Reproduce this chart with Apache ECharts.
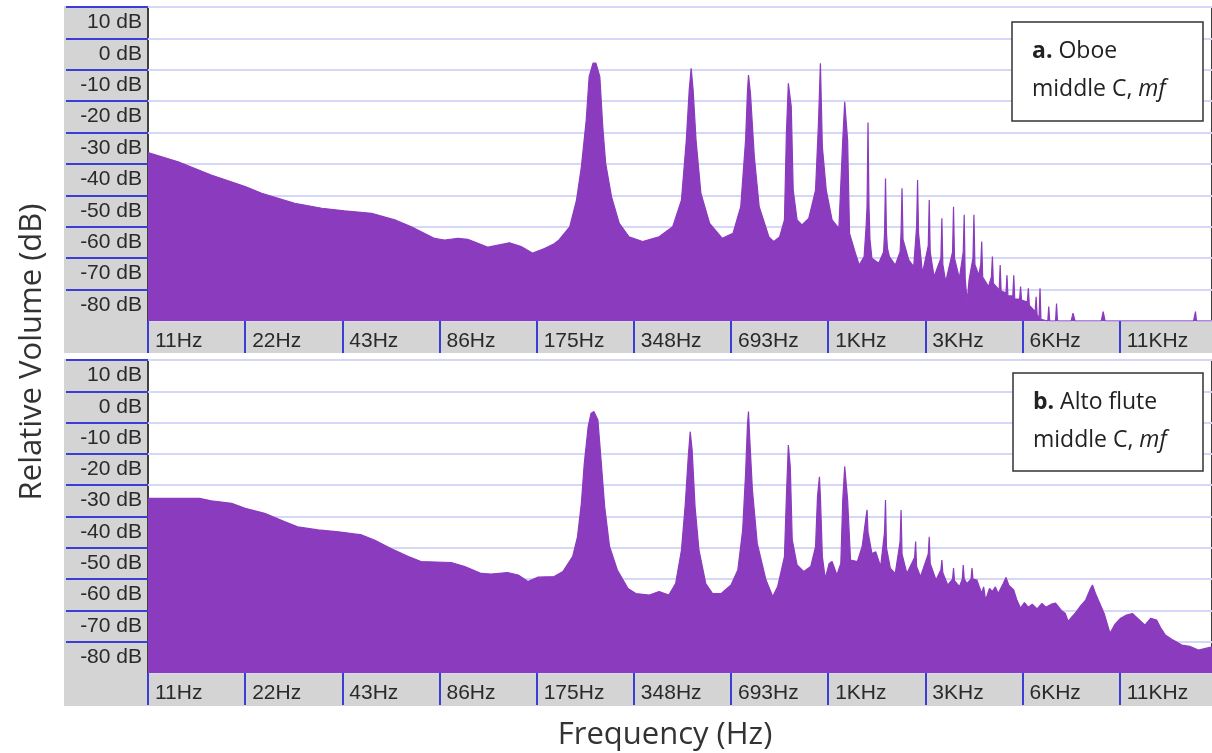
<!DOCTYPE html>
<html>
<head>
<meta charset="utf-8">
<script src="https://cdn.jsdelivr.net/npm/echarts@6/dist/echarts.min.js"></script>
<style>
  html, body { margin: 0; padding: 0; background: #ffffff; }
  #chart { width: 1212px; height: 753px; }
</style>
</head>
<body>
<div id="chart"></div>
<script>
// x values are octaves above 10.83 Hz (one tick per octave), y values are dB
const freqTickLabels = ['11Hz', '22Hz', '43Hz', '86Hz', '175Hz', '348Hz', '693Hz', '1KHz', '3KHz', '6KHz', '11KHz'];
const dbTicks = [10, 0, -10, -20, -30, -40, -50, -60, -70, -80];
const panelTitles = [
  { tag: 'a.', name: 'Oboe', line2: 'middle C, ', dyn: 'mf' },
  { tag: 'b.', name: 'Alto flute', line2: 'middle C, ', dyn: 'mf' }
];

const oboeSpectrum = [
  [0.00,-36.4],[0.31,-39.3],[0.65,-43.5],[1.00,-47.2],[1.17,-49.3],[1.51,-52.5],[1.79,-54.1],
  [2.02,-54.9],[2.30,-55.7],[2.54,-57.8],[2.71,-60.0],[2.95,-63.7],[3.05,-64.2],[3.19,-63.7],
  [3.29,-64.0],[3.50,-66.5],[3.72,-65.1],[3.84,-66.3],[3.96,-68.4],[4.08,-66.9],[4.18,-65.4],
  [4.23,-64.2],[4.34,-60.0],[4.41,-51.5],[4.46,-40.9],[4.51,-26.0],[4.54,-12.2],[4.58,-7.9],
  [4.61,-7.9],[4.65,-12.2],[4.68,-28.1],[4.71,-39.8],[4.77,-50.4],[4.85,-58.9],[4.95,-63.2],
  [5.09,-64.7],[5.26,-63.2],[5.40,-60.0],[5.49,-51.5],[5.54,-32.4],[5.57,-16.4],[5.59,-9.5],
  [5.61,-16.4],[5.64,-32.4],[5.69,-49.3],[5.78,-58.9],[5.91,-63.7],[6.02,-62.1],[6.10,-53.6],
  [6.15,-32.4],[6.17,-16.4],[6.18,-11.7],[6.20,-17.5],[6.24,-37.7],[6.29,-53.6],[6.39,-63.2],
  [6.44,-64.7],[6.50,-63.2],[6.55,-57.8],[6.57,-30.2],[6.59,-14.3],[6.62,-21.7],[6.64,-48.3],
  [6.68,-57.8],[6.73,-59.4],[6.80,-57.3],[6.87,-48.3],[6.90,-27.0],[6.92,-7.9],[6.94,-34.5],
  [6.98,-48.3],[7.04,-57.8],[7.11,-60.5],[7.15,-32.4],[7.17,-20.2],[7.20,-32.4],[7.22,-62.1],
  [7.28,-68.4],[7.32,-72.2],[7.37,-69.5],[7.39,-60.0],[7.40,-53.6],[7.41,-26.8],[7.42,-53.6],
  [7.43,-64.0],[7.45,-70.0],[7.52,-71.6],[7.57,-68.0],[7.58,-62.0],[7.59,-44.6],[7.60,-62.0],
  [7.61,-66.9],[7.63,-69.5],[7.69,-72.2],[7.74,-68.0],[7.75,-62.0],[7.76,-47.7],[7.77,-64.0],
  [7.83,-70.6],[7.88,-72.7],[7.91,-60.0],[7.92,-45.1],[7.93,-62.0],
  [7.97,-74.8],[8.03,-66.0],[8.04,-51.5],[8.05,-68.0],[8.09,-75.9],[8.16,-70.0],[8.17,-57.3],
  [8.18,-72.0],[8.21,-77.5],[8.28,-68.0],[8.29,-53.6],[8.30,-70.0],[8.35,-76.4],[8.39,-68.0],
  [8.40,-56.2],[8.41,-76.4],[8.43,-83.9],[8.45,-76.9],[8.49,-70.0],[8.50,-56.2],[8.51,-72.0],
  [8.55,-75.4],[8.57,-72.0],[8.58,-64.7],[8.59,-76.0],[8.65,-79.0],[8.68,-76.0],[8.69,-69.5],
  [8.70,-78.0],[8.76,-80.1],[8.77,-72.2],[8.78,-80.5],[8.83,-81.0],[8.84,-75.4],[8.85,-82.0],
  [8.90,-82.0],[8.91,-75.4],[8.92,-83.0],[8.97,-83.0],[8.98,-79.0],[8.99,-83.3],[9.05,-84.0],
  [9.06,-79.6],[9.07,-85.0],[9.10,-86.0],[9.13,-87.0],[9.14,-82.3],[9.15,-88.0],[9.17,-89.1],
  [9.18,-79.6],[9.19,-89.5],[9.26,-90.0],[9.27,-85.4],[9.28,-90.0],[9.34,-90.0],[9.35,-84.4],
  [9.36,-90.0],[9.50,-90.0],[9.52,-87.5],[9.54,-90.0],[9.81,-90.0],[9.83,-87.0],[9.85,-90.0],
  [10.76,-90.0],[10.78,-87.0],[10.79,-90.0],[10.95,-90.0]
];

const fluteSpectrum = [
  [0.00,-34.2],[0.53,-34.2],[0.65,-35.0],[0.86,-35.8],[1.00,-37.4],[1.20,-39.0],[1.41,-41.7],
  [1.54,-43.3],[1.75,-44.3],[1.96,-44.9],[2.20,-45.9],[2.33,-47.5],[2.50,-50.2],[2.68,-52.8],
  [2.81,-54.4],[3.12,-54.7],[3.26,-56.0],[3.43,-58.2],[3.53,-58.4],[3.70,-57.9],[3.81,-58.7],
  [3.91,-60.8],[4.01,-59.4],[4.18,-59.2],[4.27,-57.6],[4.37,-52.8],[4.42,-46.5],[4.46,-35.8],
  [4.49,-23.0],[4.53,-11.3],[4.56,-7.0],[4.59,-6.5],[4.63,-9.2],[4.66,-20.9],[4.70,-36.9],
  [4.75,-49.6],[4.83,-57.1],[4.94,-63.0],[5.02,-64.6],[5.16,-65.1],[5.26,-64.0],[5.36,-65.1],
  [5.43,-61.4],[5.49,-50.7],[5.53,-35.8],[5.56,-20.9],[5.58,-12.9],[5.60,-18.8],[5.63,-36.9],
  [5.67,-50.7],[5.74,-61.4],[5.81,-64.6],[5.90,-64.6],[6.00,-61.9],[6.07,-57.1],[6.12,-44.3],
  [6.15,-26.2],[6.17,-10.2],[6.18,-6.5],[6.19,-13.4],[6.22,-31.5],[6.27,-48.6],[6.36,-60.3],
  [6.43,-65.6],[6.48,-62.4],[6.55,-52.8],[6.57,-33.7],[6.59,-17.2],[6.61,-24.1],[6.63,-47.5],
  [6.68,-55.5],[6.75,-57.6],[6.82,-56.0],[6.87,-49.6],[6.89,-33.7],[6.91,-27.3],[6.92,-33.7],
  [6.94,-52.8],[6.97,-59.8],[7.01,-55.0],[7.04,-54.4],[7.09,-58.7],[7.13,-55.0],[7.15,-34.7],
  [7.17,-24.0],[7.20,-34.7],[7.23,-53.9],[7.30,-54.4],[7.35,-49.6],[7.39,-40.0],[7.40,-37.9],
  [7.41,-45.0],[7.45,-51.8],[7.49,-51.3],[7.54,-56.0],[7.58,-45.0],[7.59,-34.7],[7.60,-50.0],
  [7.64,-56.6],[7.69,-58.2],[7.74,-48.0],[7.75,-37.9],[7.76,-52.0],[7.81,-58.2],[7.89,-53.0],
  [7.90,-48.0],[7.91,-56.0],[7.95,-59.2],[8.03,-52.0],[8.04,-46.5],[8.05,-55.0],[8.11,-60.3],
  [8.16,-57.0],[8.17,-53.9],[8.18,-58.0],[8.23,-61.9],[8.28,-60.0],[8.29,-56.5],[8.30,-60.5],
  [8.35,-62.4],[8.38,-60.0],[8.39,-55.5],[8.40,-60.0],[8.43,-61.4],[8.47,-60.0],[8.48,-56.5],
  [8.49,-60.0],[8.53,-60.3],[8.55,-62.0],[8.58,-64.5],[8.60,-62.5],[8.62,-66.7],[8.66,-63.0],
  [8.69,-64.0],[8.72,-62.5],[8.75,-64.6],[8.80,-61.5],[8.83,-59.5],[8.86,-62.0],[8.91,-63.5],
  [8.94,-66.5],[8.98,-69.3],[9.02,-67.5],[9.06,-69.0],[9.10,-68.0],[9.15,-69.5],[9.20,-67.8],
  [9.24,-69.0],[9.30,-68.0],[9.34,-67.7],[9.40,-70.0],[9.44,-71.0],[9.47,-73.5],[9.49,-74.1],
  [9.51,-72.0],[9.54,-71.0],[9.60,-68.5],[9.65,-66.7],[9.70,-63.0],[9.72,-61.9],[9.75,-64.5],
  [9.78,-66.7],[9.84,-71.0],[9.90,-77.3],[9.95,-74.5],[10.01,-72.5],[10.07,-71.5],[10.13,-71.0],
  [10.20,-73.0],[10.26,-74.7],[10.32,-72.5],[10.38,-73.1],[10.42,-75.5],[10.47,-77.9],[10.55,-79.5],
  [10.64,-81.1],[10.72,-81.5],[10.81,-82.7],[10.95,-81.6]
];

const PURPLE = '#8a3bbe';
const BLUE = '#3c3cd6';
const GRAY = '#d4d4d4';
const LABEL_FONT = '"Liberation Sans", Arial, sans-serif';
const TITLE_FONT = '"Open Sans", "Noto Sans", sans-serif';

const chart = echarts.init(document.getElementById('chart'), null, { renderer: 'canvas' });

const panels = [{ top: 7, height: 314 }, { top: 360, height: 313 }];

function makeX(i) {
  return {
    type: 'value', gridIndex: i, min: 0, max: 10.95, interval: 1, position: 'bottom',
    axisLine: { show: false, onZero: false },
    splitLine: { show: false },
    axisTick: { show: true, length: 32, lineStyle: { color: BLUE, width: 2 } },
    axisLabel: {
      show: true, align: 'left', margin: 10, padding: [0, 0, 0, 7],
      fontFamily: LABEL_FONT, fontSize: 21, color: '#2a2a2a',
      showMaxLabel: false,
      formatter: function (v) { return (Number.isInteger(v) && v < freqTickLabels.length) ? freqTickLabels[v] : ''; }
    }
  };
}
function makeY(i) {
  return {
    type: 'value', gridIndex: i, min: -90, max: 10, interval: 10, position: 'left',
    axisLine: { show: false, onZero: false },
    axisTick: { show: true, length: 82, lineStyle: { color: BLUE, width: 2 } },
    splitLine: { show: true, lineStyle: { color: '#d6d6f6', width: 2 } },
    axisLabel: {
      show: true, margin: 6, verticalAlign: 'top', padding: [5, 0, 0, 0],
      fontFamily: LABEL_FONT, fontSize: 21, color: '#2a2a2a',
      showMinLabel: false, showMaxLabel: true,
      formatter: function (v) { return dbTicks.indexOf(v) >= 0 ? v + ' dB' : ''; }
    }
  };
}

function legendBox(p, x, y, w, h) {
  return {
    type: 'group', z: 100,
    children: [
      { type: 'rect', shape: { x: x, y: y, width: w, height: h },
        style: { fill: '#ffffff', stroke: '#333333', lineWidth: 1.5 }, z: 100 },
      { type: 'text', x: x + 20, y: y + 10, z: 101,
        style: {
          text: '{b|' + p.tag + '}{r| ' + p.name + '}\n{r|' + p.line2 + '}{i|' + p.dyn + '}',
          rich: {
            b: { fontFamily: TITLE_FONT, fontSize: 23, fontWeight: 'bold', fill: '#222', lineHeight: 38 },
            r: { fontFamily: TITLE_FONT, fontSize: 23, fill: '#222', lineHeight: 38 },
            i: { fontFamily: TITLE_FONT, fontSize: 23, fontStyle: 'italic', fill: '#222', lineHeight: 38 }
          }
        } }
    ]
  };
}

const option = {
  animation: false,
  backgroundColor: '#ffffff',
  grid: panels.map(function (p) {
    return { left: 148, right: -1, top: p.top, height: p.height, show: true,
      backgroundColor: '#ffffff', borderColor: '#404040', borderWidth: 2, containLabel: false };
  }),
  xAxis: [makeX(0), makeX(1)],
  yAxis: [makeY(0), makeY(1)],
  series: [
    { type: 'line', xAxisIndex: 0, yAxisIndex: 0, data: oboeSpectrum, showSymbol: false, silent: true,
      lineStyle: { color: PURPLE, width: 1.2 }, areaStyle: { color: PURPLE, opacity: 1, origin: 'start' }, z: 3 },
    { type: 'line', xAxisIndex: 1, yAxisIndex: 1, data: fluteSpectrum, showSymbol: false, silent: true,
      lineStyle: { color: PURPLE, width: 1.2 }, areaStyle: { color: PURPLE, opacity: 1, origin: 'start' }, z: 3 }
  ],
  graphic: [
    { type: 'rect', z: -10, shape: { x: 64, y: 6, width: 1148, height: 347 }, style: { fill: GRAY } },
    { type: 'rect', z: -10, shape: { x: 64, y: 359, width: 1148, height: 347 }, style: { fill: GRAY } },
    legendBox(panelTitles[0], 1012, 22, 191, 99),
    legendBox(panelTitles[1], 1013, 373, 190, 98),
    { type: 'text', x: 32, y: 352, rotation: Math.PI / 2, z: 50,
      style: { text: 'Relative Volume (dB)', align: 'center', verticalAlign: 'middle',
        font: '31px ' + TITLE_FONT, fill: '#333333' } },
    { type: 'text', x: 665, y: 735, z: 50,
      style: { text: 'Frequency (Hz)', align: 'center', verticalAlign: 'middle',
        font: '31px ' + TITLE_FONT, fill: '#333333' } }
  ]
};
chart.setOption(option);
</script>
</body>
</html>
